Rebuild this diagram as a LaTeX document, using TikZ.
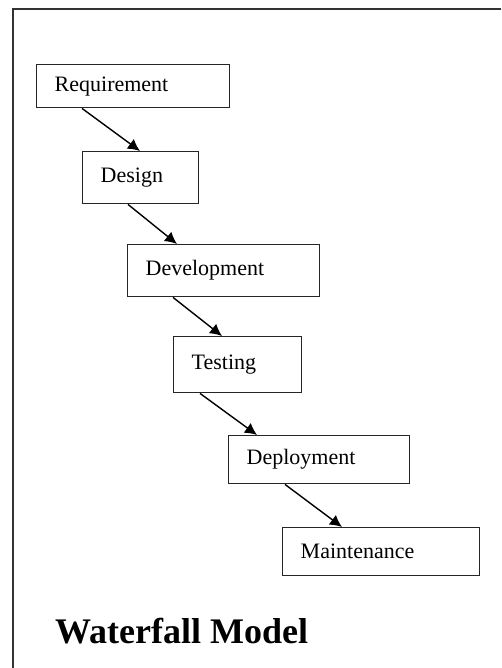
\documentclass[tikz,border=0pt]{standalone}
\usepackage{fontspec}
\setmainfont{Liberation Serif}
\usetikzlibrary{arrows.meta}

\begin{document}
\begin{tikzpicture}[x=1pt,y=-1pt,
  stage/.style={draw=black!85,line width=1.4pt,anchor=north west,inner xsep=18pt,inner ysep=0pt,align=left,font=\fontsize{22}{24}\selectfont},
  flow/.style={-{Latex[length=12pt,width=12pt]},line width=1.4pt}]
\useasboundingbox (0,0) rectangle (501,668);

% frame
\draw[black!80,line width=2pt] (12.5,668) -- (12.5,9.5) -- (501,9.5);

\node[stage,text width=157pt,minimum height=43pt] (req) at (36,64) {Requirement};
\node[stage,text width=80pt,minimum height=52pt] (des) at (82,151) {Design};
\node[stage,text width=156pt,minimum height=52pt] (dev) at (127,244) {Development};
\node[stage,text width=92pt,minimum height=56pt] (test) at (173,336) {Testing};
\node[stage,text width=145pt,minimum height=48pt] (dep) at (228,435) {Deployment};
\node[stage,text width=161pt,minimum height=48pt] (maint) at (282,527) {Maintenance};

\draw[flow] ([xshift=46pt]req.south west) -- ([xshift=58pt]des.north west);
\draw[flow] ([xshift=46pt]des.south west) -- ([xshift=50pt]dev.north west);
\draw[flow] ([xshift=46pt]dev.south west) -- ([xshift=49pt]test.north west);
\draw[flow] ([xshift=27pt]test.south west) -- ([xshift=29pt]dep.north west);
\draw[flow] ([xshift=57pt]dep.south west) -- ([xshift=60pt]maint.north west);

\node[anchor=base west,inner sep=0pt,font=\bfseries\fontsize{36}{38}\selectfont] (title) at (55,643) {Waterfall Model};
\end{tikzpicture}
\end{document}
